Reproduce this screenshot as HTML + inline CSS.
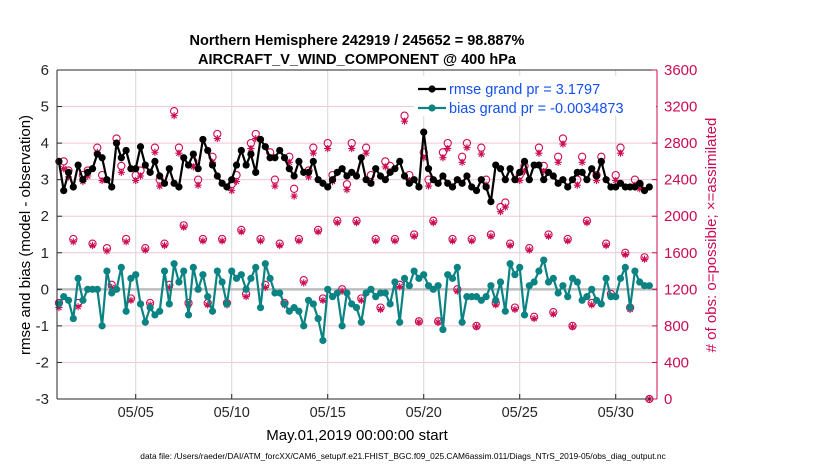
<!DOCTYPE html>
<html><head><meta charset="utf-8"><style>
body{margin:0;background:#fff;}
svg{display:block;font-family:"Liberation Sans",sans-serif;}
</style></head><body>
<svg id="chart" width="830" height="470" viewBox="0 0 830 470" xmlns="http://www.w3.org/2000/svg">
<rect width="830" height="470" fill="#fff"/>
<text x="357" y="45" text-anchor="middle" font-size="14.5" font-weight="bold">Northern Hemisphere 242919 / 245652 = 98.887%</text>
<text x="357" y="64" text-anchor="middle" font-size="14.5" font-weight="bold">AIRCRAFT_V_WIND_COMPONENT @ 400 hPa</text>
<g id="plot"></g>
<text transform="translate(30,235) rotate(-90)" text-anchor="middle" font-size="15">rmse and bias (model - observation)</text>
<text transform="translate(716,235) rotate(-90)" text-anchor="middle" font-size="15" fill="#cc0c52"># of obs: o=possible; ×=assimilated</text>
<text x="357" y="440" text-anchor="middle" font-size="15">May.01,2019 00:00:00 start</text>
<text x="403" y="459" text-anchor="middle" font-size="8.4">data file: /Users/raeder/DAI/ATM_forcXX/CAM6_setup/f.e21.FHIST_BGC.f09_025.CAM6assim.011/Diags_NTrS_2019-05/obs_diag_output.nc</text>
</svg>
<script>
const xTickDays=[5,10,15,20,25,30];
const xTickLabels=["05/05","05/10","05/15","05/20","05/25","05/30"];
const yTicks=[6,5,4,3,2,1,0,-1,-2,-3];
const y2Ticks=[0,400,800,1200,1600,2000,2400,2800,3200,3600];
const rmse=[3.5,2.7,3.2,2.8, 3.4,3.0,3.2,3.3, 3.7,3.6,3.0,2.8, 4.0,3.6,3.8,3.3, 3.3,3.9,3.4,3.2, 3.5,3.1,2.9,3.3, 2.9,2.8,3.6,3.4, 3.7,3.3,4.1,3.8, 3.4,3.1,2.9,2.8, 3.0,3.4,3.8,3.4, 3.7,3.2,4.1,3.9, 3.6,3.6,3.8,3.6, 3.3,3.1,3.5,3.2, 3.2,3.5,3.0,2.9, 2.8,3.0,3.2,3.3, 3.1,3.2,3.1,3.6, 3.0,2.9,3.3,3.1, 3.0,3.2,3.3,3.5, 3.1,2.9,3.0,2.8, 4.3,3.3,3.0,2.9, 3.1,2.9,2.8,3.0, 2.9,3.1,2.8,2.7, 3.0,2.8,2.4,3.4, 3.3,3.0,3.3,3.0, 3.2,3.5,3.0,3.4, 3.4,3.0,3.2,3.1, 2.9,3.0,2.8,3.0, 3.2,3.2,3.0,3.3, 3.1,3.5,3.0,2.8, 2.8,2.9,2.8,2.8, 2.8,2.9,2.7,2.8];
const bias=[-0.4,-0.2,-0.3,-0.8, 0.3,-0.3,0.0,0.0, 0.0,-1.0,0.5,-0.1, 0.0,0.6,-0.6,0.3, 0.4,-0.4,-0.9,-0.5, -0.7,-0.6,0.5,-0.4, 0.7,0.2,0.5,-0.7, 0.6,0.0,0.4,-0.2, -0.6,0.5,0.2,-0.4, 0.5,0.3,0.4,0.0, 0.3,0.6,-0.5,0.7, 0.3,-0.1,-0.1,-0.4, -0.6,-0.5,-0.6,-1.0, -0.3,-0.4,-0.8,-1.4, 0.0,-0.2,-0.1,-1.0, -0.1,-0.4,-0.5,-0.9, -0.1,0.0,-0.2,-0.1, -0.1,-0.4,0.2,-0.9, 0.3,0.1,0.5,0.3, 0.4,0.1,0.0,0.1, -1.1,0.4,0.3,0.6, -0.9,-0.2,-0.2,-0.2, -0.3,-0.2,0.1,-0.3, 0.2,-0.6,0.7,0.4, 0.6,-0.7,0.1,0.2, 0.5,0.8,0.2,0.3, -0.1,0.1,-0.2,0.3, 0.2,-0.3,-0.2,0.0, -0.3,-0.4,0.3,-0.2, -0.2,0.3,0.6,-0.5, 0.5,0.2,0.1,0.1];
const nPossible=[1050,2600,2500,1750, 1050,2450,2500,1700, 2750,2450,1650,1250, 2850,2550,1750,1100, 2450,2500,1650,1050, 2750,2400,1700,1250, 3150,2750,1900,1050, 2600,2400,1750,1050, 2650,2900,1750,1050, 2350,2450,1850,1150, 2800,2900,1750,1250, 2700,2400,1700,1050, 2650,2300,1750,1300, 2500,2750,1850,1100, 2800,2450,1950,1200, 2350,2800,1950,1100, 2750,2450,1750,1000, 2600,2550,1750,1250, 3100,2450,1800,850, 2700,2400,1950,850, 2700,2800,1750,1200, 2650,2800,1750,800, 2750,2400,1800,1050, 2100,2150,1700,1000, 2450,2550,1650,900, 2750,2550,1800,950, 2650,2850,1750,800, 2400,2650,1950,1050, 2450,2650,1700,1150, 2450,2750,1600,1000, 2400,2350,1550,0];
const nAssim=[1000,2520,2430,1720, 1010,2380,2440,1680, 2700,2390,1620,1220, 2800,2480,1720,1080, 2390,2440,1630,1030, 2700,2330,1680,1220, 3100,2690,1880,1030, 2540,2340,1730,1030, 2590,2850,1730,1030, 2280,2380,1830,1120, 2740,2850,1730,1220, 2640,2330,1680,1030, 2590,2220,1730,1270, 2430,2690,1830,1080, 2740,2380,1930,1180, 2290,2740,1930,1080, 2690,2380,1730,980, 2540,2490,1730,1230, 3040,2390,1780,840, 2640,2330,1930,840, 2640,2740,1730,1180, 2590,2750,1730,790, 2680,2340,1780,1030, 2050,2100,1680,980, 2390,2490,1630,880, 2690,2490,1780,930, 2590,2790,1730,790, 2340,2590,1930,1030, 2390,2590,1680,1130, 2390,2690,1580,980, 2340,2300,1530,0];

const NS="http://www.w3.org/2000/svg";
const X0=57,X1=657,Y0=70,Y1=399;
const DMIN=0.9,DMAX=32.15;
function xs(d){return X0+(d-DMIN)/(DMAX-DMIN)*(X1-X0);}
function ys(v){return Y1-(v+3)/9*(Y1-Y0);}
function ys2(c){return Y1-c/3600*(Y1-Y0);}
function dayOf(i){return 1+i*0.25;}
const g=document.getElementById('plot');
function mk(tag,attrs,parent){const e=document.createElementNS(NS,tag);for(const k in attrs)e.setAttribute(k,attrs[k]);(parent||g).appendChild(e);return e;}
const red="#cc0c52",teal="#0b8383";

yTicks.forEach(v=>{if(v===6||v===-3)return;
  const l=mk('line',{x1:X0,x2:X1,y1:ys(v),y2:ys(v),stroke:'#f2c6d6','stroke-width':1});
  
  
});
xTickDays.forEach(d=>{
  const l=mk('line',{x1:xs(d),x2:xs(d),y1:Y0,y2:Y1,stroke:'#d8d8d8','stroke-width':1});
  
  
});
const zl=mk('line',{x1:X0,x2:X1,y1:ys(0),y2:ys(0),stroke:'#bdbdbd','stroke-width':2.5});



const og=mk('g',{});


nPossible.forEach((c,i)=>{
  const x=xs(dayOf(i)),y=ys2(c);
  const ci=mk('circle',{cx:x,cy:y,r:3.6,fill:'none',stroke:red,'stroke-width':1.1},og);
  
  
});
nAssim.forEach((c,i)=>{
  const x=xs(dayOf(i)),y=ys2(c),r=3.6;
  let p='';
  for(let a=0;a<4;a++){const t=a*Math.PI/4;p+=`M${x-r*Math.cos(t)},${y-r*Math.sin(t)}L${x+r*Math.cos(t)},${y+r*Math.sin(t)}`;}
  const as=mk('path',{d:p,stroke:red,'stroke-width':1.1,fill:'none'},og);
  
  
});

function series(vals,color,name){
  const sg=mk('g',{});
  
  
  const pts=vals.map((v,i)=>xs(dayOf(i)).toFixed(1)+','+ys(v).toFixed(1)).join(' ');
  const pl=mk('polyline',{points:pts,fill:'none',stroke:color,'stroke-width':2.2,'stroke-linejoin':'round'},sg);
  
  
  vals.forEach((v,i)=>{
    const c=mk('circle',{cx:xs(dayOf(i)),cy:ys(v),r:3.6,fill:color},sg);
    
    
  });
}
series(bias,teal,'bias');
series(rmse,'#000','rmse');

const ax=mk('g',{});


mk('line',{x1:X0,x2:X1,y1:Y0,y2:Y0,stroke:'#262626','stroke-width':1},ax);
mk('line',{x1:X0,x2:X1,y1:Y1,y2:Y1,stroke:'#262626','stroke-width':1},ax);
mk('line',{x1:X0,x2:X0,y1:Y0,y2:Y1,stroke:'#262626','stroke-width':1},ax);
mk('line',{x1:X1,x2:X1,y1:Y0,y2:Y1,stroke:red,'stroke-width':1},ax);
yTicks.forEach(v=>{
  mk('line',{x1:X0,x2:X0+5,y1:ys(v),y2:ys(v),stroke:'#262626'},ax);
  const t=mk('text',{x:X0-8,y:ys(v)+5,'text-anchor':'end','font-size':15,fill:'#262626'},ax);
  t.textContent=v;
  
  
});
y2Ticks.forEach(c=>{
  mk('line',{x1:X1-5,x2:X1,y1:ys2(c),y2:ys2(c),stroke:red},ax);
  const t=mk('text',{x:X1+7,y:ys2(c)+5,'font-size':15,fill:red},ax);
  t.textContent=c;
  
  
});
xTickDays.forEach((d,i)=>{
  mk('line',{x1:xs(d),x2:xs(d),y1:Y1,y2:Y1-5,stroke:'#262626'},ax);
  const t=mk('text',{x:xs(d),y:Y1+18,'text-anchor':'middle','font-size':14.5,fill:'#262626'},ax);
  t.textContent=xTickLabels[i];
  
  
});

const lg=mk('g',{});


mk('rect',{x:414,y:76,width:242,height:40,fill:'#fff'},lg);
[[rmse,'#000','rmse grand pr = 3.1797',89],[bias,teal,'bias grand pr = -0.0034873',108]].forEach(e=>{
  mk('line',{x1:418,x2:446,y1:e[3],y2:e[3],stroke:e[1],'stroke-width':2.2},lg);
  mk('circle',{cx:432,cy:e[3],r:3.6,fill:e[1]},lg);
  const t=mk('text',{x:449,y:e[3]+5,'font-size':14.5,fill:'#1450f0'},lg);
  t.textContent=e[2];
  
  
});
</script>
</body></html>
